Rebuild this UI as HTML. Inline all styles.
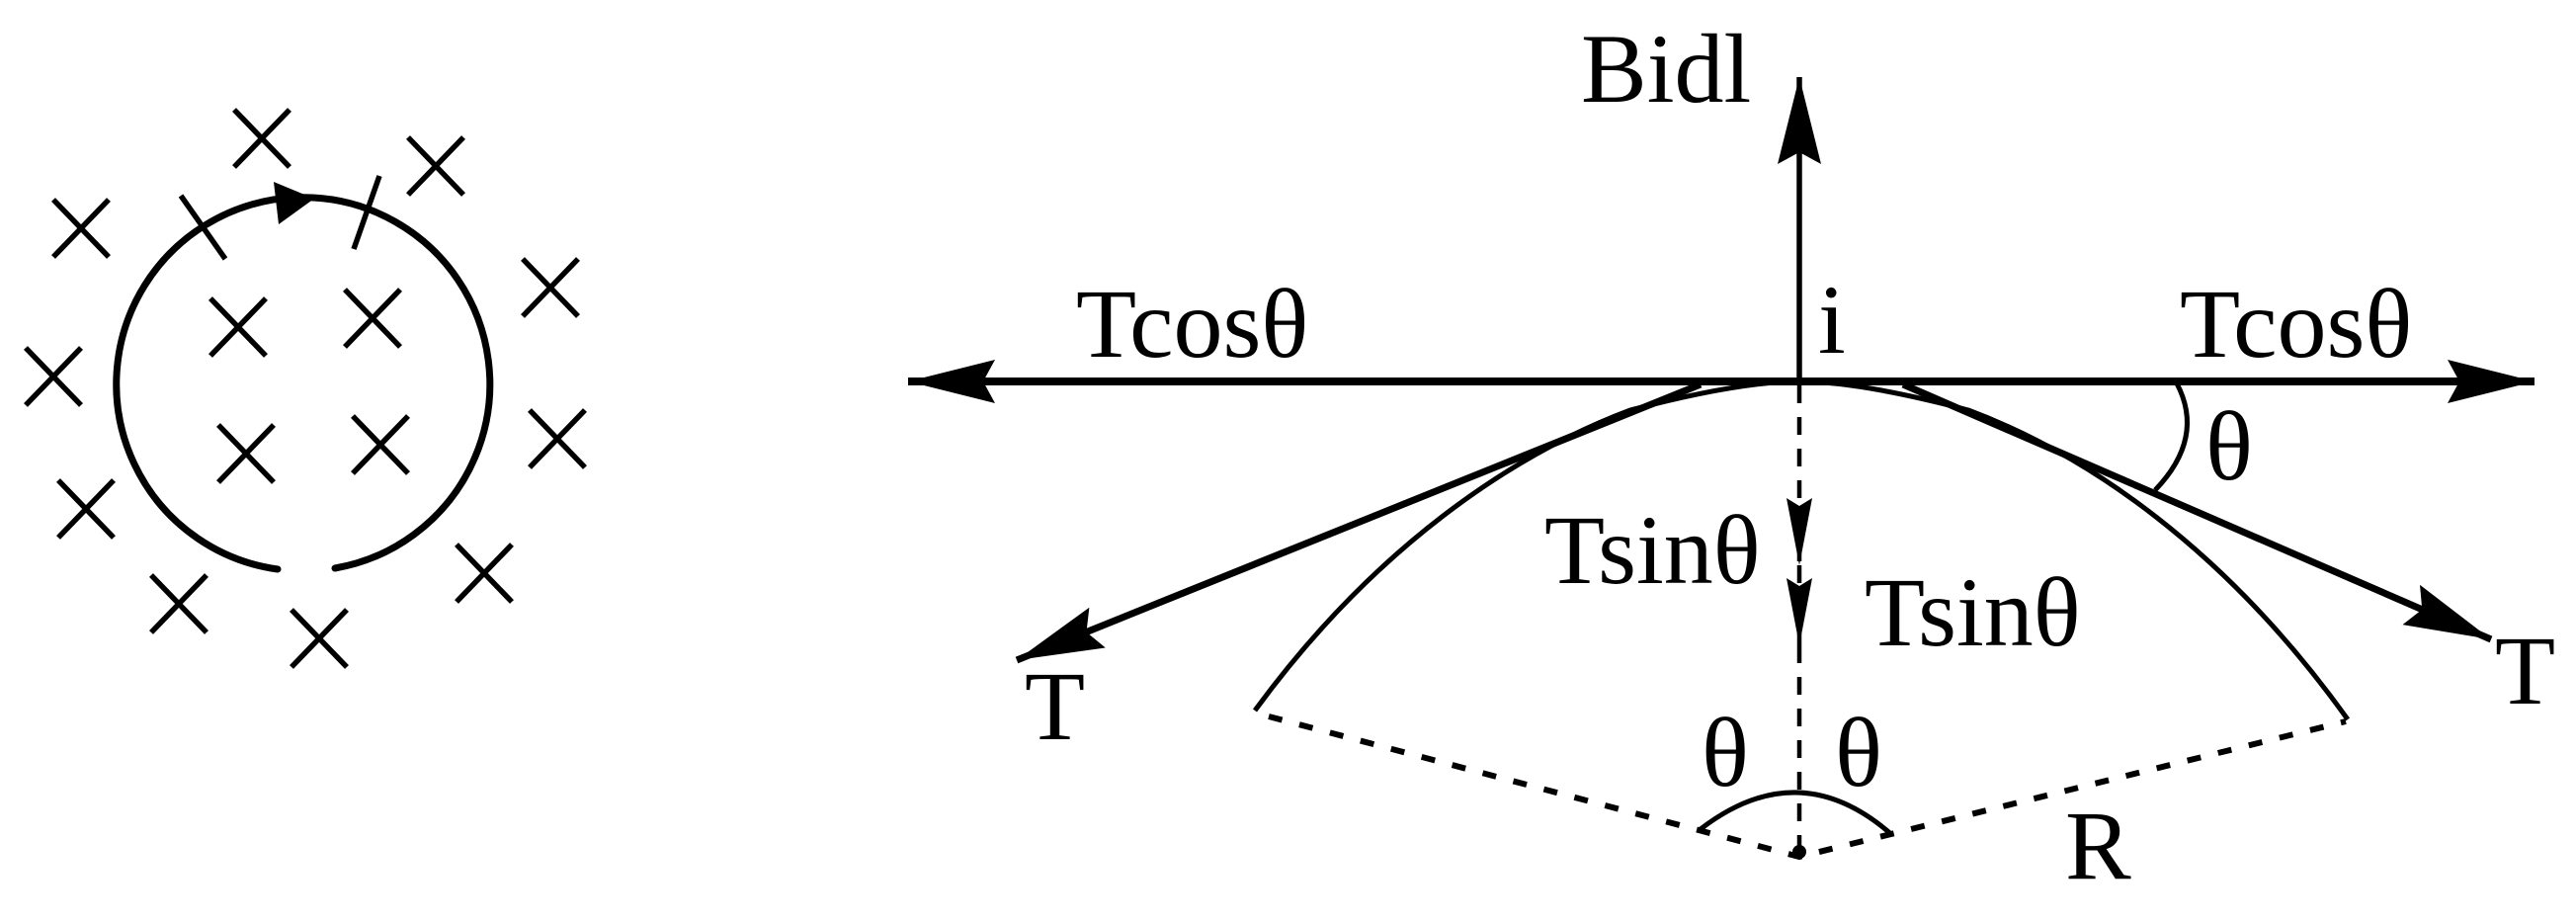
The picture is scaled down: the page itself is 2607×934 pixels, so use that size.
<!DOCTYPE html>
<html><head><meta charset="utf-8"><style>
html,body{margin:0;padding:0;background:#fff;}
svg{display:block;}
text{font-family:"Liberation Serif",serif;font-size:100px;fill:#000;}
</style></head><body>
<svg width="2607" height="934" viewBox="0 0 2607 934" xmlns="http://www.w3.org/2000/svg">
<defs>
<marker id="big" markerUnits="userSpaceOnUse" markerWidth="90" markerHeight="44" refX="88" refY="22" orient="auto"><path d="M0,0 L88,22 L0,44 L12,22 z" fill="#000"/></marker>
<marker id="sm" markerUnits="userSpaceOnUse" markerWidth="72" markerHeight="30" refX="68" refY="15" orient="auto"><path d="M0,2 L68,15 L0,28 L8,15 z" fill="#000"/></marker>
</defs>
<g stroke="#000" fill="none" stroke-linecap="butt">
<path d="M281,576 A189,189 0 1 1 339,575" stroke-width="7" stroke-linecap="round"/>
<path d="M318,201 L277,184 L282,227 Z" fill="#000" stroke="none"/>
<g stroke-width="5.5">
<line x1="183" y1="198" x2="228" y2="262"/>
<line x1="384" y1="178" x2="358" y2="252"/>
</g>
<g stroke-width="5.5">
<path d="M237,111 l56,58 M293,111 l-56,58"/>
<path d="M413,139 l56,58 M469,139 l-56,58"/>
<path d="M54,202 l56,58 M110,202 l-56,58"/>
<path d="M213,302 l56,58 M269,302 l-56,58"/>
<path d="M349,293 l56,58 M405,293 l-56,58"/>
<path d="M529,262 l56,58 M585,262 l-56,58"/>
<path d="M26,352 l56,58 M82,352 l-56,58"/>
<path d="M221,430 l56,58 M277,430 l-56,58"/>
<path d="M357,421 l56,58 M413,421 l-56,58"/>
<path d="M536,415 l56,58 M592,415 l-56,58"/>
<path d="M59,486 l56,58 M115,486 l-56,58"/>
<path d="M462,551 l56,58 M518,551 l-56,58"/>
<path d="M153,582 l56,58 M209,582 l-56,58"/>
<path d="M295,617 l56,58 M351,617 l-56,58"/>
</g>
<line x1="1821" y1="386" x2="1821" y2="78" stroke-width="5.5" marker-end="url(#big)"/>
<line x1="1821" y1="386" x2="919" y2="386" stroke-width="8" marker-end="url(#big)"/>
<line x1="1821" y1="386" x2="2565" y2="386" stroke-width="8" marker-end="url(#big)"/>
<path d="M1270,719 C1390,555 1530,460 1650,415 Q1760,386 1821,386 Q1882,386 1992,415 C2112,460 2252,555 2376,728" stroke-width="5"/>
<line x1="1721" y1="389" x2="1029" y2="668" stroke-width="7" marker-end="url(#big)"/>
<line x1="1926" y1="389" x2="2521" y2="647" stroke-width="7" marker-end="url(#big)"/>
<path d="M1284,725 L1821,867 L2374,730" stroke-width="6" stroke-dasharray="14,18"/>
<line x1="1821" y1="390" x2="1821" y2="572" stroke-width="4.5" stroke-dasharray="18,14" marker-end="url(#sm)"/>
<line x1="1821" y1="572" x2="1821" y2="653" stroke-width="4.5" stroke-dasharray="18,14" marker-end="url(#sm)"/>
<line x1="1821" y1="653" x2="1821" y2="867" stroke-width="4.5" stroke-dasharray="18,14"/>
<circle cx="1821" cy="862" r="7" fill="#000" stroke="none"/>
<path d="M2203,388 Q2232,443 2181,496" stroke-width="5"/>
<path d="M1721,839 Q1821,762 1915,845" stroke-width="5"/>
</g>
<text x="1600" y="103">Bidl</text>
<text x="1089" y="361">Tcosθ</text>
<text x="1840" y="357">i</text>
<text x="2206" y="361">Tcosθ</text>
<text x="2232" y="485">θ</text>
<text x="1563" y="590">Tsinθ</text>
<text x="1887" y="653">Tsinθ</text>
<text x="1037" y="748">T</text>
<text x="2525" y="712">T</text>
<text x="1722" y="795">θ</text>
<text x="1857" y="795">θ</text>
<text x="2090" y="889">R</text>
</svg>
</body></html>
